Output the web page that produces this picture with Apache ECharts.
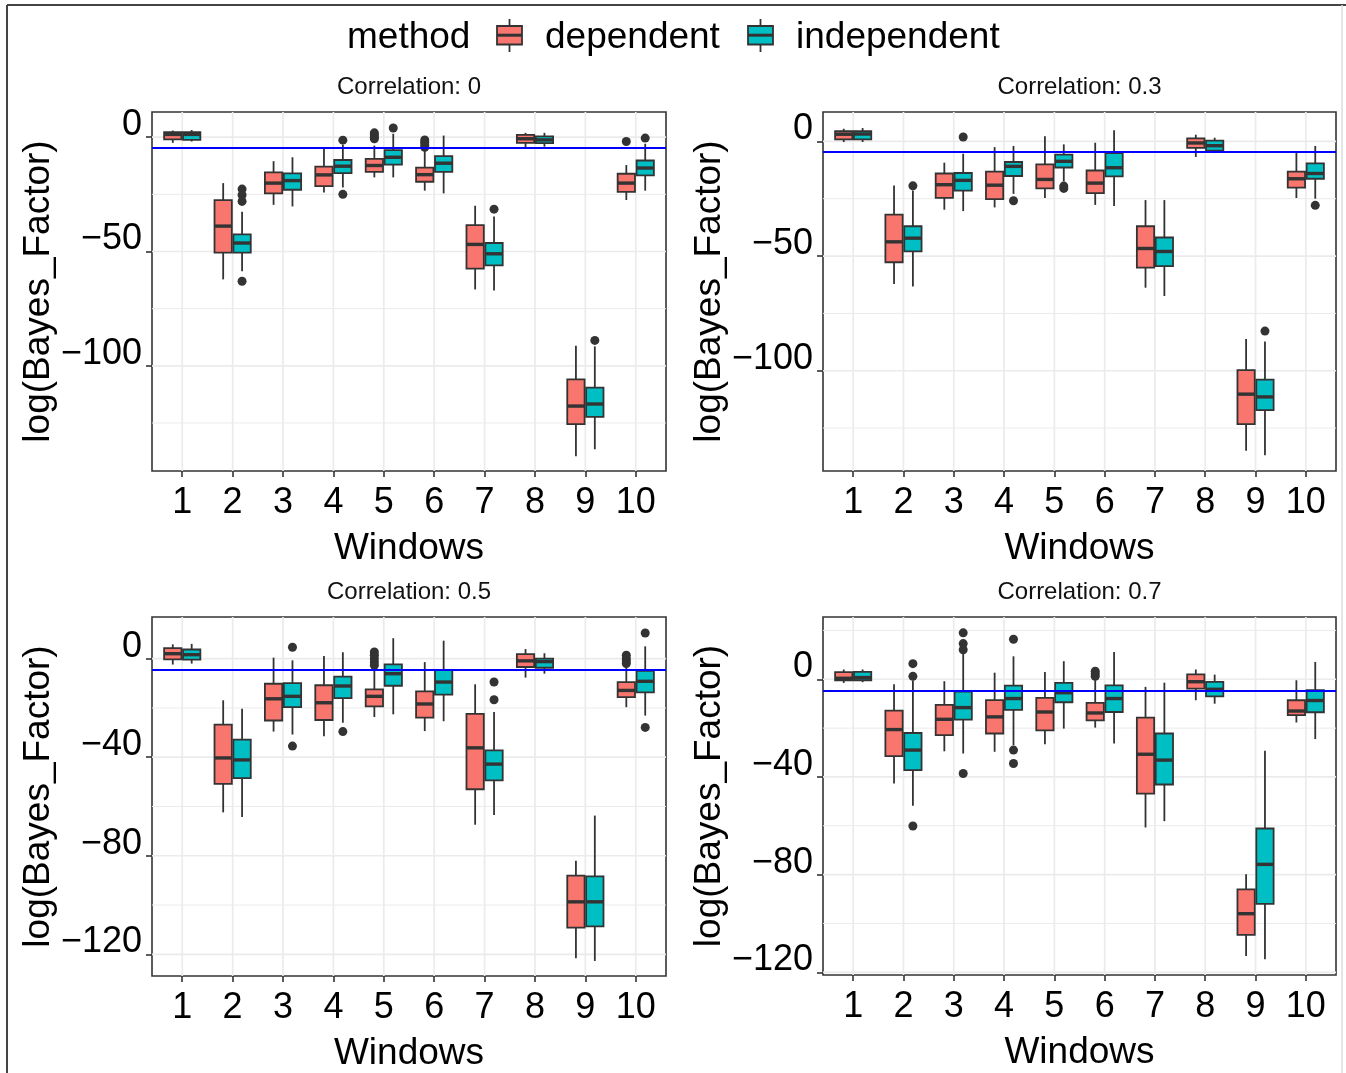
<!DOCTYPE html>
<html><head><meta charset="utf-8">
<script src="https://cdn.jsdelivr.net/npm/echarts@6/dist/echarts.min.js"></script>
<style>html,body{margin:0;padding:0;background:#fff}#c{width:1346px;height:1073px}</style>
</head><body><div id="c"></div>
<script>
// ---------------- data ----------------
const windows = ['1','2','3','4','5','6','7','8','9','10'];
const methods = ['dependent','independent'];
const panelTitles = ['Correlation: 0','Correlation: 0.3','Correlation: 0.5','Correlation: 0.7'];
const threshold = -4.6;

// box stats per window: [lowerWhisker, q1, median, q3, upperWhisker]
const dep_c0 = [[-2.5,-1.0,1.2,2.2,2.9],[-62.2,-50.5,-38.9,-27.5,-20.1],[-29.6,-24.6,-20.1,-15.4,-10.5],[-24.2,-21.4,-16.5,-12.9,-4.7],[-17.6,-15.2,-12.4,-9.5,-3.7],[-23.4,-19.5,-16.4,-13.3,-5.9],[-66.6,-57.5,-46.9,-38.5,-30.0],[-4.7,-2.5,-0.7,1.0,1.9],[-139.5,-125.5,-117.6,-105.9,-91.2],[-27.5,-23.9,-20.1,-16.0,-12.2]];
const ind_c0 = [[-1.9,-1.2,1.2,2.2,3.1],[-58.6,-50.5,-46.3,-42.5,-32.6],[-30.3,-23.0,-19.0,-15.8,-8.8],[-22.0,-15.7,-12.7,-10.0,-3.4],[-17.6,-12.0,-8.8,-5.7,1.5],[-24.6,-15.2,-11.4,-8.3,0.7],[-67.1,-56.1,-51.0,-46.3,-34.7],[-4.2,-2.6,-1.2,0.3,1.9],[-136.5,-122.3,-116.7,-109.5,-91.5],[-23.4,-16.7,-13.5,-10.2,-2.9]];
const outDep_c0 = [[5,1.9],[5,1.0],[5,0.0],[5,-0.7],[6,-1.2],[6,-2.2],[6,-3.4],[6,-4.4],[10,-1.9]];
const outInd_c0 = [[2,-22.7],[2,-25.3],[2,-28.1],[2,-63.0],[4,-1.3],[4,-25.0],[5,4.0],[7,-31.5],[9,-88.9],[10,-0.4]];

const dep_c3 = [[-0.3,0.9,3.1,4.4,5.5],[-62.2,-52.7,-43.8,-31.9,-19.2],[-29.8,-24.6,-18.9,-14.0,-9.3],[-28.8,-25.2,-19.1,-13.2,-2.5],[-24.7,-20.5,-16.6,-10.0,2.2],[-27.7,-22.6,-18.2,-12.7,-0.6],[-63.8,-55.0,-46.7,-37.0,-25.6],[-6.8,-2.8,-0.7,1.3,2.9],[-134.9,-123.3,-110.2,-99.7,-86.2],[-24.7,-20.2,-16.3,-13.2,-4.4]];
const ind_c3 = [[-0.3,0.9,3.2,4.4,5.8],[-63.3,-48.0,-42.2,-37.0,-21.4],[-30.4,-21.5,-17.0,-13.8,-5.4],[-22.9,-15.1,-10.9,-9.0,-2.0],[-17.5,-11.4,-8.7,-5.8,-1.3],[-28.2,-15.3,-11.5,-5.1,4.8],[-67.4,-54.4,-48.0,-41.9,-25.6],[-5.1,-4.1,-1.9,0.3,1.6],[-136.8,-117.2,-111.4,-103.9,-87.3],[-25.0,-16.3,-14.0,-9.6,-2.0]];
const outDep_c3 = [];
const outInd_c3 = [[2,-19.4],[3,1.9],[4,-25.9],[5,-19.5],[5,-20.5],[9,-82.7],[10,-27.9]];

const dep_c5 = [[-2.4,-0.3,2.0,4.3,5.8],[-62.4,-50.8,-40.3,-26.8,-16.9],[-29.6,-25.1,-16.3,-10.2,0.4],[-31.5,-24.9,-17.9,-10.8,1.1],[-23.7,-19.4,-15.3,-12.5,-3.0],[-29.4,-23.9,-18.4,-13.3,-1.4],[-67.4,-53.0,-36.2,-22.4,-10.4],[-7.7,-3.4,-0.9,1.8,3.9],[-121.6,-109.2,-98.7,-88.1,-82.0],[-19.7,-15.6,-12.9,-9.5,-3.1]];
const ind_c5 = [[-2.0,-0.4,1.6,3.7,6.0],[-64.3,-48.5,-41.1,-32.9,-20.3],[-30.8,-19.7,-15.3,-9.9,-0.7],[-26.0,-16.0,-11.1,-7.3,2.6],[-22.6,-11.0,-6.1,-2.3,8.3],[-25.4,-14.6,-9.5,-4.7,7.3],[-63.5,-49.4,-42.8,-37.2,-21.7],[-6.1,-3.7,-1.2,0.0,2.2],[-122.7,-108.7,-98.7,-88.4,-63.7],[-23.1,-13.7,-9.2,-5.0,5.0]];
const outDep_c5 = [[5,2.7],[5,1.4],[5,0.0],[5,-1.4],[5,-2.7],[10,1.4],[10,0.0],[10,-1.0],[10,-2.0]];
const outInd_c5 = [[3,4.6],[3,-35.5],[4,-29.6],[7,-9.5],[7,-16.7],[10,10.4],[10,-27.9]];

const dep_c7 = [[-1.5,-0.4,0.4,2.9,4.0],[-42.7,-31.5,-20.6,-12.8,-2.0],[-29.5,-22.9,-16.4,-10.5,-0.8],[-29.7,-22.2,-15.4,-8.5,2.7],[-26.6,-20.9,-13.4,-7.6,3.0],[-19.8,-16.8,-13.8,-9.7,-0.4],[-60.7,-46.8,-30.7,-15.7,-3.1],[-8.6,-3.8,-1.0,2.0,4.0],[-113.3,-104.7,-96.0,-86.0,-79.8],[-17.7,-14.7,-13.0,-8.6,-0.4]];
const ind_c7 = [[-1.2,-0.4,0.7,3.0,4.0],[-51.8,-37.2,-29.0,-22.0,-0.5],[-30.4,-16.5,-11.6,-5.0,11.2],[-27.0,-12.5,-7.9,-2.6,9.4],[-20.2,-9.4,-5.5,-1.5,7.4],[-26.3,-13.4,-7.9,-2.5,11.2],[-58.1,-43.1,-33.1,-22.2,-1.4],[-10.0,-7.0,-4.1,-1.1,1.9],[-114.7,-92.0,-75.8,-61.1,-29.3],[-24.5,-13.5,-8.7,-4.5,7.1]];
const outDep_c7 = [[6,3.3],[6,2.3],[6,1.2]];
const outInd_c7 = [[2,6.4],[2,1.2],[2,-60.1],[3,19.0],[3,14.6],[3,12.1],[3,-38.6],[4,16.4],[4,-29.0],[4,-34.5]];

// y-axis ticks and ranges
const yTicks_c0 = [0,-50,-100];  const yMinor_c0 = [-25,-75,-125]; const yRange_c0 = [-146, 11];
const yTicks_c3 = [0,-50,-100];  const yMinor_c3 = [-25,-75,-125]; const yRange_c3 = [-143.7, 12.8];
const yTicks_c5 = [0,-40,-80,-120]; const yMinor_c5 = [-20,-60,-100]; const yRange_c5 = [-128.8, 16.9];
const yTicks_c7 = [0,-40,-80,-120]; const yMinor_c7 = [20,-20,-60,-100]; const yRange_c7 = [-121.1, 25.5];

// ---------------- layout / style ----------------
const FONT = 'Liberation Sans, Arial, Helvetica, sans-serif';
const COLORS = {dependent:'#F8766D', independent:'#00BFC4'};
const DARK = '#333333';
const GRIDS = [
  {left:152, top:112, width:514, height:359},
  {left:823, top:112, width:513, height:359},
  {left:152, top:617, width:514, height:359},
  {left:823, top:617, width:513, height:358}
];
const X_MIN = 0.4, X_MAX = 10.6, DODGE = 0.1875, HALF = 0.172;
const winVals = windows.map((w,k)=>k+1);

const panels = [
  {dep:dep_c0, ind:ind_c0, oDep:outDep_c0, oInd:outInd_c0, ticks:yTicks_c0, minor:yMinor_c0, range:yRange_c0},
  {dep:dep_c3, ind:ind_c3, oDep:outDep_c3, oInd:outInd_c3, ticks:yTicks_c3, minor:yMinor_c3, range:yRange_c3},
  {dep:dep_c5, ind:ind_c5, oDep:outDep_c5, oInd:outInd_c5, ticks:yTicks_c5, minor:yMinor_c5, range:yRange_c5},
  {dep:dep_c7, ind:ind_c7, oDep:outDep_c7, oInd:outInd_c7, ticks:yTicks_c7, minor:yMinor_c7, range:yRange_c7}
];

function fmtNum(v){ return v < 0 ? '\u2212' + Math.abs(v) : String(v); }

function boxRenderer(color){
  return function(params, api){
    const x = api.value(0);
    const lo = api.coord([x, api.value(1)]);
    const q1 = api.coord([x, api.value(2)]);
    const md = api.coord([x, api.value(3)]);
    const q3 = api.coord([x, api.value(4)]);
    const hi = api.coord([x, api.value(5)]);
    const hw = api.size([HALF, 0])[0];
    const cx = lo[0];
    return {type:'group', children:[
      {type:'line', shape:{x1:cx, y1:hi[1], x2:cx, y2:q3[1]}, style:{stroke:DARK, lineWidth:1.8}},
      {type:'line', shape:{x1:cx, y1:q1[1], x2:cx, y2:lo[1]}, style:{stroke:DARK, lineWidth:1.8}},
      {type:'rect', shape:{x:cx-hw, y:q3[1], width:2*hw, height:q1[1]-q3[1]}, style:{fill:color, stroke:DARK, lineWidth:1.8}},
      {type:'line', shape:{x1:cx-hw, y1:md[1], x2:cx+hw, y2:md[1]}, style:{stroke:DARK, lineWidth:3.4}}
    ]};
  };
}

const grid = [], xAxis = [], yAxis = [], series = [];
panels.forEach((p, i) => {
  grid.push(Object.assign({show:true, borderColor:DARK, borderWidth:1.6, backgroundColor:'#fff', containLabel:false}, GRIDS[i]));
  xAxis.push({
    type:'value', gridIndex:i, min:X_MIN, max:X_MAX,
    axisLine:{show:false, onZero:false},
    axisTick:{show:true, customValues:winVals, length:6, lineStyle:{color:DARK, width:1.6}},
    axisLabel:{customValues:winVals, formatter:(v)=>windows[Math.round(v)-1], fontSize:36, color:'#000', fontFamily:FONT, margin:14},
    splitLine:{show:false},
    name:'Windows', nameLocation:'middle', nameGap:59,
    nameTextStyle:{fontSize:37, color:'#000', fontFamily:FONT}
  });
  yAxis.push({
    type:'value', gridIndex:i, min:p.range[0], max:p.range[1],
    axisLine:{show:false, onZero:false},
    axisTick:{show:true, customValues:p.ticks, length:6, lineStyle:{color:DARK, width:1.6}},
    axisLabel:{customValues:p.ticks, formatter:fmtNum, fontSize:36, color:'#000', fontFamily:FONT, margin:10,
      verticalAlign:'bottom', lineHeight:24},
    splitLine:{show:false},
    name:'log(Bayes_Factor)', nameLocation:'middle', nameGap:93, nameRotate:90,
    nameTextStyle:{fontSize:37, color:'#000', fontFamily:FONT}
  });
  // grid lines
  const gl = [].concat(p.ticks.map(v=>[0,v,1]), p.minor.map(v=>[0,v,0]), winVals.map(v=>[1,v,1]));
  series.push({
    type:'custom', xAxisIndex:i, yAxisIndex:i, z:1, silent:true, animation:false,
    data: gl,
    renderItem:(params, api)=>{
      const o = api.value(0), v = api.value(1), major = api.value(2);
      let a, b;
      if (o === 0) { a = api.coord([X_MIN, v]); b = api.coord([X_MAX, v]); }
      else { a = api.coord([v, p.range[0]]); b = api.coord([v, p.range[1]]); }
      return {type:'line', shape:{x1:a[0], y1:a[1], x2:b[0], y2:b[1]}, style:{stroke:'#EBEBEB', lineWidth: major ? 1.7 : 1.0}};
    }
  });
  // boxes
  [[p.dep, 'dependent', -DODGE],[p.ind, 'independent', DODGE]].forEach(([stats, m, off])=>{
    series.push({
      type:'custom', name:m, xAxisIndex:i, yAxisIndex:i, z:3, silent:true, animation:false,
      data: stats.map((s,k)=>[k+1+off].concat(s)),
      encode:{x:0, y:[1,2,3,4,5]},
      renderItem: boxRenderer(COLORS[m])
    });
  });
  // outliers
  [[p.oDep, -DODGE],[p.oInd, DODGE]].forEach(([pts, off])=>{
    series.push({
      type:'scatter', xAxisIndex:i, yAxisIndex:i, z:4, silent:true, animation:false,
      symbolSize:9, itemStyle:{color:DARK, opacity:1},
      data: pts.map(([w,v])=>[w+off, v])
    });
  });
  // threshold line
  series.push({
    type:'scatter', xAxisIndex:i, yAxisIndex:i, z:6, silent:true, animation:false, data:[],
    markLine:{silent:true, animation:false, symbol:['none','none'], label:{show:false},
      lineStyle:{color:'#0000FF', width:2, type:'solid', opacity:1},
      emphasis:{disabled:true},
      data:[{yAxis:threshold}]}
  });
});

// strip titles, legend, outer border
const graphic = [];
panelTitles.forEach((t,i)=>{
  const g = GRIDS[i];
  graphic.push({type:'text', x:g.left + g.width/2, y:g.top - 25, z:10,
    style:{text:t, fill:'#111', font:'24px ' + FONT, textAlign:'center', textVerticalAlign:'middle'}});
});
graphic.push({type:'text', x:347, y:38, style:{text:'method', fill:'#000', font:'37px ' + FONT, textAlign:'left', textVerticalAlign:'middle'}});
const keyPos = [{x:497, tx:545}, {x:748, tx:796}];
methods.forEach((m,k)=>{
  const kx = keyPos[k].x;
  graphic.push({type:'line', shape:{x1:kx+12.5, y1:19, x2:kx+12.5, y2:52}, style:{stroke:DARK, lineWidth:1.8}});
  graphic.push({type:'rect', shape:{x:kx, y:26, width:25, height:18.5}, style:{fill:COLORS[m], stroke:DARK, lineWidth:1.8}});
  graphic.push({type:'line', shape:{x1:kx, y1:35.2, x2:kx+25, y2:35.2}, style:{stroke:DARK, lineWidth:3}});
  graphic.push({type:'text', x:keyPos[k].tx, y:38, style:{text:m, fill:'#000', font:'37px ' + FONT, textAlign:'left', textVerticalAlign:'middle'}});
});
graphic.push({type:'line', shape:{x1:7, y1:5, x2:7, y2:1073}, style:{stroke:'#444', lineWidth:2}});
graphic.push({type:'line', shape:{x1:7, y1:5, x2:1346, y2:5}, style:{stroke:'#444', lineWidth:2}});
graphic.push({type:'line', shape:{x1:1342, y1:5, x2:1342, y2:1073}, style:{stroke:'#dddddd', lineWidth:1.5}});

const chart = echarts.init(document.getElementById('c'), null, {renderer:'canvas'});
chart.setOption({
  backgroundColor:'#fff',
  animation:false,
  textStyle:{fontFamily:FONT},
  grid, xAxis, yAxis, series, graphic
});
</script></body></html>
